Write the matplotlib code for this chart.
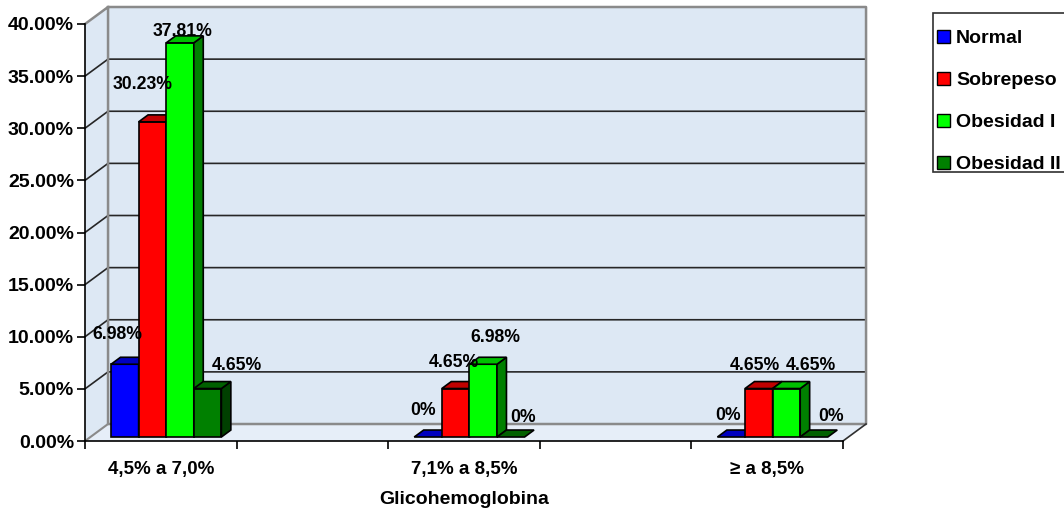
import numpy as np
import matplotlib
matplotlib.use("Agg")
import matplotlib.pyplot as plt
from matplotlib.patches import Polygon, Patch, Rectangle

plt.rcParams["font.family"] = ["Liberation Sans", "DejaVu Sans"]
plt.rcParams["font.weight"] = "bold"

# ── Data ──
categories = ["4,5% a 7,0%", "7,1% a 8,5%", "\u2265 a 8,5%"]
series = ["Normal", "Sobrepeso", "Obesidad I", "Obesidad II"]
normal = [6.98, 0.0, 0.0]
sobrepeso = [30.23, 4.65, 4.65]
obesidad_1 = [37.81, 6.98, 4.65]
obesidad_2 = [4.65, 0.0, 0.0]
values = [normal, sobrepeso, obesidad_1, obesidad_2]

# face colours: front, top, side
front_cols = ["#0000FF", "#FF0000", "#00FF00", "#008000"]
top_cols = ["#0000C0", "#C00000", "#00C000", "#006000"]
side_cols = ["#000080", "#800000", "#008000", "#004000"]

# label nudges in pixels (dx, dy) from the top of each bar front
label_nudge = [
    [(-7, 30), (-5, 27), (-3, 22)],
    [(-10, 37), (-2, 26), (-4, 23)],
    [(3, 11), (12, 27), (24, 23)],
    [(29, 23), (12, 20), (17, 21)],
]

# ── 3D look ──
DX, DY = 0.152, 1.63          # wall depth in data units
F0, F1 = 0.235, 0.645         # bar front/back as fraction of depth
W = 0.182                     # bar width
NSLOT = 5                     # 3 groups spread over 5 slots
group_pos = [0.5, 2.5, 4.5]
WALL = "#dde8f4"
FLOOR = "#e6eef8"

fig = plt.figure(figsize=(10.64, 5.09), dpi=100)
W_PX, H_PX = 1064, 509
ax = fig.add_axes([85 / W_PX, 1 - 441 / H_PX, (843 - 85) / W_PX, (441 - 24) / H_PX])
ax.set_xlim(0, NSLOT)
ax.set_ylim(0, 40)
ax.patch.set_visible(False)

# walls and floor
back = Polygon([(DX, DY), (NSLOT + DX, DY), (NSLOT + DX, 40 + DY), (DX, 40 + DY)],
               closed=True, fc=WALL, ec="none", clip_on=False, zorder=0)
side = Polygon([(0, 0), (DX, DY), (DX, 40 + DY), (0, 40)],
               closed=True, fc=WALL, ec="none", clip_on=False, zorder=0)
floor = Polygon([(0, 0), (NSLOT, 0), (NSLOT + DX, DY), (DX, DY)],
                closed=True, fc=FLOOR, ec="none", clip_on=False, zorder=0)
for p in (back, side, floor):
    ax.add_patch(p)

yticks = np.arange(0, 45, 5)
for t in yticks[1:-1]:
    ax.plot([0, DX, NSLOT + DX], [t, t + DY, t + DY], color="#262626", lw=1.2,
            clip_on=False, zorder=1)
# wall outline
ax.plot([0, DX, NSLOT + DX, NSLOT + DX, DX, DX],
        [40, 40 + DY, 40 + DY, DY, DY, 40 + DY],
        color="#8a8a8a", lw=1.8, clip_on=False, zorder=1)
ax.plot([0, DX], [0, DY], color="#8a8a8a", lw=1.5, clip_on=False, zorder=1)
ax.plot([NSLOT, NSLOT + DX], [0, DY], color="#303030", lw=1.2, clip_on=False, zorder=1)

# bars
z = 3
for g, c in enumerate(group_pos):
    for j in range(len(series)):
        v = values[j][g]
        x0 = c + (j - 2) * W + F0 * DX
        b0 = F0 * DY
        ddx, ddy = (F1 - F0) * DX, (F1 - F0) * DY
        if v > 0:
            ax.bar(x0, v, bottom=b0, width=W, align="edge", color=front_cols[j],
                   edgecolor="black", lw=1.2, zorder=z)
            ax.add_patch(Polygon([(x0 + W, b0), (x0 + W, v + b0), (x0 + W + ddx, v + b0 + ddy),
                                  (x0 + W + ddx, b0 + ddy)], closed=True, fc=side_cols[j],
                                 ec="black", lw=1.2, zorder=z))
        ax.add_patch(Polygon([(x0, v + b0), (x0 + W, v + b0), (x0 + W + ddx, v + b0 + ddy),
                              (x0 + ddx, v + b0 + ddy)], closed=True, fc=top_cols[j],
                             ec="black", lw=1.2, zorder=z))
        z += 1
        txt = f"{v:.2f}%" if v > 0 else "0%"
        nx, ny = label_nudge[j][g]
        ax.annotate(txt, (x0 + W / 2, v + b0), xytext=(nx, ny), textcoords="offset pixels",
                    ha="center", va="center", fontsize=12.7, fontweight="bold", zorder=50,
                    annotation_clip=False)

# axes
for s in ("top", "right"):
    ax.spines[s].set_visible(False)
ax.spines["left"].set_linewidth(1.2)
ax.spines["bottom"].set_linewidth(1.2)
ax.spines["left"].set_zorder(2)
ax.spines["bottom"].set_zorder(2)
ax.set_yticks(yticks)
ax.set_yticklabels([f"{t:.2f}%" for t in yticks])
ax.tick_params(axis="y", length=6, width=1.2, pad=2, labelsize=14)
ax.set_xticks(np.arange(0, NSLOT + 1))
ax.set_xticklabels([])
ax.set_xticks(group_pos, minor=True)
ax.set_xticklabels(categories, minor=True)
ax.tick_params(axis="x", which="major", length=6, width=1.2)
ax.tick_params(axis="x", which="minor", length=0, pad=14.5, labelsize=13.5)
ax.set_xlabel("Glicohemoglobina", fontsize=14, fontweight="bold", labelpad=9)

# legend: frame drawn separately
fig.add_artist(Rectangle((933 / W_PX, 1 - 172 / H_PX), (1070 - 933) / W_PX, (172 - 13) / H_PX,
                         transform=fig.transFigure, fc="white", ec="#303030", lw=1.2))
handles = [Patch(fc=front_cols[j], ec="black", lw=1) for j in range(len(series))]
fig.legend(handles, series, loc="upper left", bbox_to_anchor=(937 / W_PX, 1 - 30 / H_PX),
           frameon=False, fontsize=14, labelspacing=1.26, handlelength=0.68,
           handleheight=0.68, handletextpad=0.3, borderpad=0, borderaxespad=0)

fig.savefig("out.png", dpi=100)
